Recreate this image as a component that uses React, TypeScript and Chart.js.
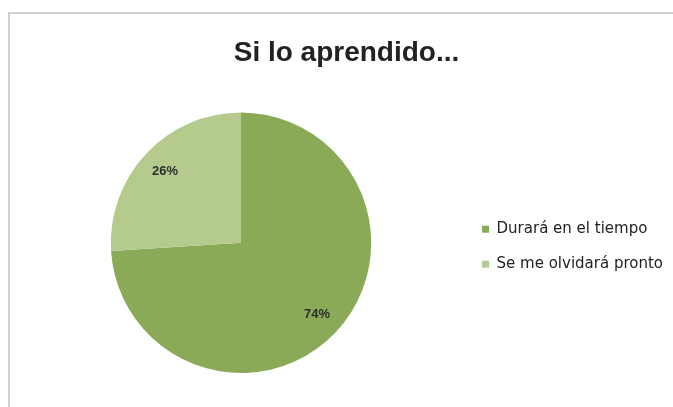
import React, { useEffect, useRef } from "react";
import { Chart, registerables } from "chart.js";

Chart.register(...registerables);

const titleText = "Si lo aprendido...";
const categories = ["Durará en el tiempo", "Se me olvidará pronto"];
const values = [74, 26];
const sliceColors = ["#8aaa57", "#b5cb8e"];

const percentLabels = {
  id: "percentLabels",
  afterDatasetsDraw(chart: any) {
    const ctx = chart.ctx;
    const meta = chart.getDatasetMeta(0);
    const total = values.reduce((a, b) => a + b, 0);
    ctx.save();
    ctx.font = "bold 13px 'Liberation Sans', Arial, sans-serif";
    ctx.fillStyle = "#2e2e2e";
    ctx.textAlign = "center";
    ctx.textBaseline = "middle";
    meta.data.forEach((arc: any, i: number) => {
      const p = arc.getProps(["x", "y", "startAngle", "endAngle", "outerRadius"], true);
      const mid = (p.startAngle + p.endAngle) / 2;
      const r = p.outerRadius * 0.8;
      const x = p.x + Math.cos(mid) * r;
      const y = p.y + Math.sin(mid) * r;
      ctx.fillText(Math.round((values[i] / total) * 100) + "%", x, y);
    });
    ctx.restore();
  },
};

export default function App() {
  const ref = useRef<HTMLCanvasElement | null>(null);
  useEffect(() => {
    if (!ref.current) return;
    const chart = new Chart(ref.current, {
      type: "pie",
      data: {
        labels: categories,
        datasets: [
          {
            data: values,
            backgroundColor: sliceColors,
            borderWidth: 0,
          },
        ],
      },
      options: {
        animation: false,
        responsive: true,
        maintainAspectRatio: false,
        layout: { padding: { left: 10, right: 0, top: 0, bottom: 34 } },
        plugins: {
          tooltip: { enabled: false },
          title: {
            display: true,
            text: titleText,
            color: "#222222",
            font: { family: "'Liberation Sans', Arial, sans-serif", size: 28, weight: "bold" },
            padding: { top: 22, bottom: 43 },
          },
          legend: {
            position: "right",
            title: {
              display: true,
              text: "",
              font: { size: 12 },
              padding: { top: 92, bottom: 0 },
            },
            labels: {
              boxWidth: 7,
              boxHeight: 7,
              padding: 20,
              color: "#222222",
              font: { family: "'DejaVu Sans', sans-serif", size: 15 },
            },
          },
        },
      },
      plugins: [percentLabels],
    });
    return () => chart.destroy();
  }, []);
  return (
    <div
      style={{
        position: "fixed",
        left: 8,
        top: 12,
        right: 0,
        bottom: 0,
        boxSizing: "border-box",
        borderTop: "2px solid #d0d0d0",
        borderLeft: "2px solid #d0d0d0",
      }}
    >
      <canvas ref={ref} />
    </div>
  );
}
